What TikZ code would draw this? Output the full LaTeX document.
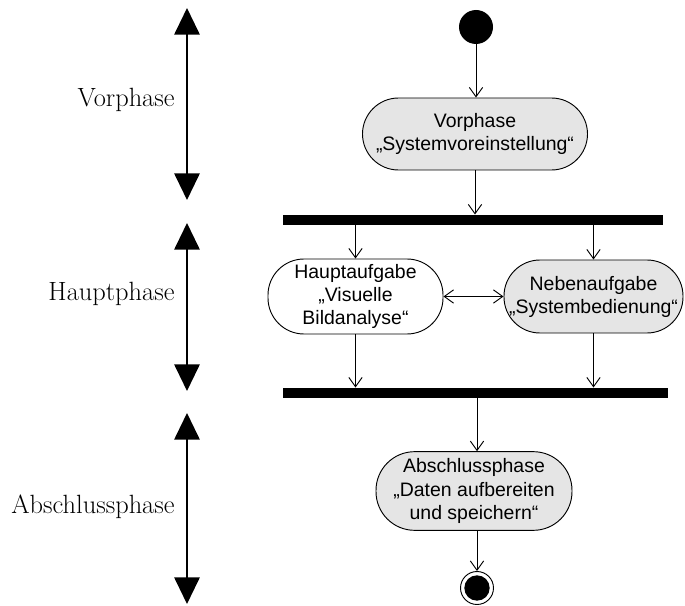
\documentclass[tikz,border=0pt]{standalone}
\usepackage{fontspec}
\setsansfont{Liberation Sans}
\usetikzlibrary{arrows.meta}
\definecolor{aktgrau}{gray}{0.9}
\tikzset{
 aktion/.style={draw,rectangle,rounded corners=27pt,align=center,inner sep=0pt,
   font=\sffamily\fontsize{14.6}{17.3}\selectfont},
 balken/.style={fill=black,inner sep=0pt,minimum height=7.5pt},
 phase/.style={anchor=base east,inner sep=0pt,font=\fontsize{19.8}{22}\selectfont},
 phasenpfeil/.style={line width=1.5pt,{Triangle[length=20pt,width=19pt]}-{Triangle[length=20pt,width=19pt]}},
 >={Straight Barb[length=7pt,width=10pt]},
}
\begin{document}
\begin{tikzpicture}[x=0.75pt,y=-0.75pt,line width=0.7pt]
 \useasboundingbox (0,0) rectangle (685,606);
 % Phasen links
 \coordinate (v1) at (187,8);
 \coordinate (v2) at (187,200);
 \coordinate (h1) at (187,223);
 \coordinate (h2) at (187,391);
 \coordinate (a1) at (187,413);
 \coordinate (a2) at (187,604);
 \draw[phasenpfeil] (v1)--(v2);
 \draw[phasenpfeil] (h1)--(h2);
 \draw[phasenpfeil] (a1)--(a2);
 \node[phase] (lvor) at (175,107) {Vorphase};
 \node[phase] (lhaupt) at (175,300) {Hauptphase};
 \node[phase] (labschluss) at (175,513) {Abschlussphase};
 % Aktivitaeten
 \node[circle,fill,minimum size=25.5pt,inner sep=0pt] (start) at (476,27) {};
 \node[aktion,fill=aktgrau,minimum width=168.75pt,minimum height=54pt] (vor) at (475,134)
   {Vorphase\\„Systemvoreinstellung“};
 \node[balken,minimum width=285pt] (gabel) at (473,220) {};
 \node[aktion,fill=white,minimum width=131.25pt,minimum height=56.25pt] (haupt) at (355.5,296.5)
   {Hauptaufgabe\\„Visuelle\\Bildanalyse“};
 \node[aktion,fill=aktgrau,minimum width=134.25pt,minimum height=54.75pt] (neben) at (593.5,296.5)
   {Nebenaufgabe\\„Systembedienung“};
 \node[balken,minimum width=288.75pt] (vereinigung) at (475.5,393) {};
 \node[aktion,fill=aktgrau,rounded corners=29pt,minimum width=147pt,minimum height=59pt] (abschluss) at (474,491)
   {Abschlussphase\\„Daten aufbereiten\\und speichern“};
 \node[circle,draw,minimum size=24.75pt,inner sep=0pt] (ende) at (477,588) {};
 \fill (ende) circle (9.5pt);
 % Uebergaenge
 \draw[->] (start)--(start |- vor.north);
 \draw[->] (vor)--(vor |- gabel.north);
 \draw[->] (gabel.south -| haupt)--(haupt);
 \draw[->] (gabel.south -| neben)--(neben);
 \draw[<->] (haupt)--(neben);
 \draw[->] (haupt)--(haupt |- vereinigung.north);
 \draw[->] (neben)--(neben |- vereinigung.north);
 \draw[->] (vereinigung.south -| ende)--(abschluss.north -| ende);
 \draw[->] (abschluss.south -| ende)--(ende);
\end{tikzpicture}
\end{document}
